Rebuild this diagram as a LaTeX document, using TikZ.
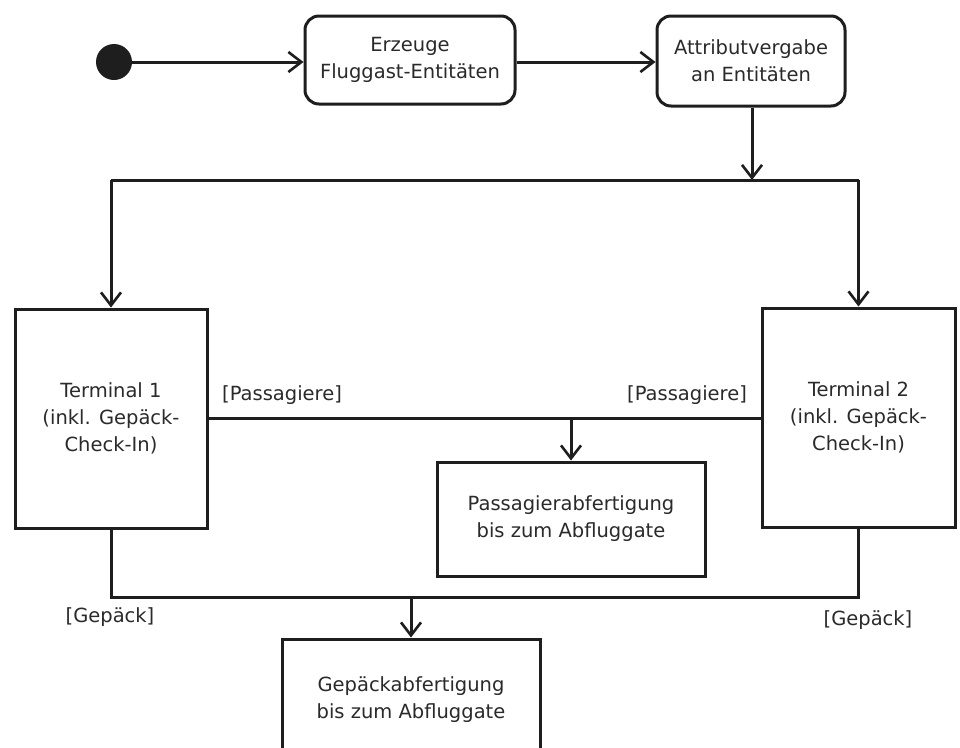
\documentclass[tikz,border=0pt]{standalone}
\usepackage{fontspec}
\setmainfont{DejaVu Sans}
\usetikzlibrary{arrows.meta}
\definecolor{ink}{HTML}{1E1E1E}
\definecolor{txt}{HTML}{2A2A2A}
\begin{document}
\begin{tikzpicture}[x=1pt,y=-1pt,
  every node/.style={text=txt, font=\fontsize{19.5}{27}\selectfont},
  act/.style={draw=ink, line width=3pt, rounded corners=14pt, align=center, inner sep=0pt},
  blk/.style={draw=ink, line width=3pt, align=center, inner sep=0pt},
  con/.style={draw=ink, line width=3pt},
  arr/.style={con, -{Straight Barb[length=13pt,width=20pt,line width=2.6pt]}},
  lbl/.style={inner sep=0pt}]
\useasboundingbox (0,0) rectangle (960,747);
\clip (0,0) rectangle (960,747);
\fill[white] (0,0) rectangle (960,747);

\node[circle, fill=ink, minimum size=36pt, inner sep=0pt] (start) at (114,62) {};
\node[act, minimum width=210pt, minimum height=88pt] (b1) at (410,60) {Erzeuge\\Fluggast-Entitäten};
\node[act, minimum width=188pt, minimum height=90pt] (b2) at (751,61) {Attributvergabe\\an Entitäten};

\node[blk, minimum width=192pt, minimum height=219pt] (t1) at (111,418.5) {Terminal 1\\(inkl. Gepäck-\\Check-In)};
\node[blk, minimum width=193pt, minimum height=219pt] (t2) at (858.5,417.5) {Terminal 2\\(inkl. Gepäck-\\Check-In)};
\node[blk, minimum width=268pt, minimum height=114pt] (pb) at (571,519) {Passagierabfertigung\\bis zum Abfluggate};
\node[blk, minimum width=258pt, minimum height=180pt] (gb) at (411,729) {};
\node[align=center] (gbt) at (411,700) {Gepäckabfertigung\\bis zum Abfluggate};

\coordinate (fork) at (752,180);
\coordinate (fl) at (t1.north |- fork);
\coordinate (fr) at (t2.north |- fork);
\coordinate (pj) at (pb.north |- t1.east);
\coordinate (gy) at (411,597);
\coordinate (gl) at (t1.south |- gy);
\coordinate (gr) at (t2.south |- gy);
\coordinate (gj) at (gb.north |- gy);

\draw[arr] (start) -- (start -| b1.west);
\draw[arr] (start -| b1.east) -- (start -| b2.west);
\draw[arr] (b2.south -| fork) -- (fork);
\draw[con] (fl) -- (fr);
\draw[arr] (fl) -- (t1.north);
\draw[arr] (fr) -- (t2.north);

\draw[con] (t1.east) -- (t1.east -| t2.west);
\draw[arr] (pj) -- (pb.north);

\draw[con] (t1.south) -- (gl) -- (gr) -- (t2.south);
\draw[arr] (gj) -- (gb.north);

\node[lbl] (lp1) at (282,395) {[Passagiere]};
\node[lbl] (lp2) at (687,395) {[Passagiere]};
\node[lbl] (lg1) at (110,617) {[Gepäck]};
\node[lbl] (lg2) at (868,620) {[Gepäck]};
\end{tikzpicture}
\end{document}
